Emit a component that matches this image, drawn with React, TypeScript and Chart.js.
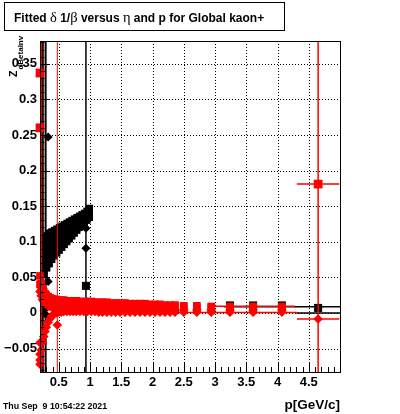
import React, { useEffect, useRef } from "react";
import { Chart, registerables } from "chart.js";

Chart.register(...registerables);

// ---------- axis ranges & ticks ----------
const xRange = [0.2, 5.0];
const yRange = [-0.083, 0.382];
const xTickValues = [0.5, 1, 1.5, 2, 2.5, 3, 3.5, 4, 4.5];
const yTickValues = [-0.05, 0, 0.05, 0.1, 0.15, 0.2, 0.25, 0.3, 0.35];

// ---------- texts ----------
const titleParts: [string, string][] = [
  ["Fitted ", "b"], ["\u03b4", "g"], [" 1/", "b"], ["\u03b2", "g"],
  [" versus ", "b"], ["\u03b7", "g"], [" and p for Global kaon+", "b"],
];
const dateText = "Thu Sep  9 10:54:22 2021";
const xTitle = "p[GeV/c]";
const yTitleMain = "Z";
const yTitleSub = "dBetaInv";

// ---------- black wedge (dense black squares, several eta bins) ----------
const wedgeP = [0.27, 0.31, 0.35, 0.39, 0.43, 0.47, 0.51, 0.55, 0.59, 0.63, 0.67, 0.71, 0.75, 0.79, 0.83, 0.87, 0.91, 0.95, 0.99];
const blackRow1 = [0.106, 0.108, 0.111, 0.114, 0.116, 0.118, 0.120, 0.122, 0.124, 0.126, 0.128, 0.130, 0.132, 0.134, 0.136, 0.138, 0.140, 0.143, 0.147];
const blackRow2 = [0.098, 0.101, 0.105, 0.108, 0.110, 0.113, 0.115, 0.118, 0.120, 0.122, 0.124, 0.126, 0.128, 0.130, 0.132, 0.135, 0.137, 0.140, 0.144];
const blackRow3 = [0.089, 0.093, 0.097, 0.101, 0.104, 0.107, 0.110, 0.112, 0.115, 0.117, 0.119, 0.122, 0.124, 0.127, 0.129, 0.132, 0.134, 0.137, 0.141];
const blackRow4 = [0.079, 0.084, 0.089, 0.093, 0.097, 0.100, 0.103, 0.106, 0.109, 0.112, 0.114, 0.117, 0.120, 0.123, 0.126, 0.128, 0.131, 0.134, 0.138];
const blackRow5 = [0.068, 0.074, 0.079, 0.084, 0.089, 0.092, 0.096, 0.099, 0.103, 0.106, 0.109, 0.112, 0.116, 0.119, 0.122, 0.125, 0.128, 0.132, 0.136];
const blackRow6 = [0.055, 0.063, 0.069, 0.075, 0.080, 0.084, 0.088, 0.092, 0.096, 0.100, 0.104, 0.108, 0.112, 0.116, 0.120, 0.123, 0.126, 0.130, 0.134];

// ---------- isolated black markers ----------
const blackSqP = [0.935, 3.24, 3.61, 4.07, 4.65];
const blackSqY = [0.038, 0.0105, 0.0105, 0.0105, 0.007];
const blackDiaP = [0.33, 0.33, 0.33, 0.935, 0.935, 0.27, 0.30];
const blackDiaY = [0.247, 0.112, 0.044, 0.119, 0.091, 0.004, -0.003];

// ---------- red band (dense red markers, several eta bins) ----------
const bandP = [0.20, 0.22, 0.24, 0.26, 0.28, 0.30, 0.33, 0.36, 0.39, 0.42, 0.46, 0.50, 0.54, 0.58, 0.63, 0.68, 0.73, 0.78, 0.84, 0.90, 0.96, 1.02, 1.08, 1.14, 1.20, 1.27, 1.34, 1.41, 1.48, 1.56, 1.64, 1.72, 1.80, 1.88, 1.96, 2.04, 2.12, 2.20, 2.28, 2.36, 2.50, 2.71, 2.94, 3.24, 3.61, 4.07];
const redSqA = [0.052, 0.041, 0.034, 0.030, 0.027, 0.025, 0.023, 0.021, 0.020, 0.019, 0.019, 0.018, 0.018, 0.018, 0.017, 0.017, 0.017, 0.017, 0.016, 0.016, 0.016, 0.016, 0.015, 0.015, 0.015, 0.015, 0.014, 0.014, 0.014, 0.014, 0.013, 0.013, 0.013, 0.013, 0.012, 0.012, 0.012, 0.011, 0.011, 0.011, 0.010, 0.010, 0.009, 0.009, 0.009, 0.009];
const redSqB = [0.040, 0.032, 0.027, 0.023, 0.020, 0.018, 0.016, 0.015, 0.014, 0.013, 0.013, 0.012, 0.012, 0.012, 0.012, 0.011, 0.011, 0.011, 0.011, 0.011, 0.010, 0.010, 0.010, 0.010, 0.010, 0.010, 0.010, 0.009, 0.009, 0.009, 0.009, 0.009, 0.009, 0.009, 0.009, 0.008, 0.008, 0.008, 0.008, 0.008, 0.008, 0.007, 0.007, 0.007, 0.007, 0.007];
const redDiaC = [0.030, 0.024, 0.019, 0.016, 0.014, 0.012, 0.010, 0.009, 0.008, 0.007, 0.007, 0.006, 0.006, 0.006, 0.006, 0.006, 0.005, 0.005, 0.005, 0.005, 0.005, 0.005, 0.005, 0.005, 0.005, 0.005, 0.004, 0.004, 0.004, 0.004, 0.004, 0.004, 0.004, 0.004, 0.004, 0.004, 0.004, 0.004, 0.004, 0.004, 0.004, 0.004, 0.004, 0.004, 0.004, 0.004];
const redDiaD = [-0.072, -0.052, -0.041, -0.033, -0.026, -0.020, -0.013, -0.008, -0.004, -0.002, 0.000, 0.001, 0.001, 0.002, 0.002, 0.002, 0.002, 0.002, 0.002, 0.002, 0.002, 0.002, 0.002, 0.001, 0.001, 0.001, 0.001, 0.001, 0.001, 0.001, 0.001, 0.001, 0.001, 0.001, 0.001, 0.001, 0.001, 0.001, 0.001, 0.001, 0.001, 0.001, 0.001, 0.001, 0.001, 0.001];

// ---------- isolated red markers ----------
const redSqP = [0.2, 0.2, 4.65];
const redSqY = [0.337, 0.26, 0.181];
const redDiaP = [0.2, 0.2, 0.2, 0.477, 4.65];
const redDiaY = [-0.042, -0.058, -0.066, -0.017, -0.0085];

// ---------- error bars (centre, half-widths) ----------
const redErrP = [0.218, 0.477, 4.65, 4.65, 3.61, 3.24];
const redErrY = [0.26, -0.017, 0.181, -0.0085, 0.0095, 0.0005];
const redErrDx = [0, 0, 0.34, 0.34, 0.67, 1.07];
const redErrDy = [0.5, 0.5, 0.5, 0, 0, 0];
const blackErrP = [0.245, 0.29, 0.935, 4.07, 4.65];
const blackErrY = [0.1, 0.1, 0.038, 0.0085, 0.0];
const blackErrDx = [0, 0, 0, 0.93, 0.35];
const blackErrDy = [0.5, 0.5, 0.5, 0, 0];

// ---------- styling ----------
const RED = "#ff0000";
const BLACK = "#000000";
const SANS = '"Liberation Sans", Arial, Helvetica, sans-serif';
const SERIF = '"Liberation Serif", "DejaVu Serif", serif';
const redErrWidth = [2.2, 1, 1.5, 1.5, 1.5, 1.5];
const blackErrWidth = [2, 2, 1.5, 1.5, 1.5];

const zip = (P: number[], Y: number[]) => P.map((p, i) => ({ x: p, y: Y[i] }));

function markerSet(data: any[], style: string, radius: number, color: string, order: number) {
  return {
    data,
    showLine: false,
    pointStyle: style,
    pointRadius: radius,
    pointHoverRadius: radius,
    pointBackgroundColor: color,
    pointBorderColor: color,
    pointBorderWidth: 0,
    backgroundColor: color,
    borderColor: color,
    clip: 8,
    order,
  };
}

function errSets(P: number[], Y: number[], DX: number[], DY: number[], widths: number[], color: string, order: number) {
  const out: any[] = [];
  P.forEach((p, i) => {
    const base = {
      showLine: true,
      pointRadius: 0,
      pointHoverRadius: 0,
      borderColor: color,
      borderWidth: widths[i],
      fill: false,
      clip: 0,
      order,
    };
    if (DX[i] > 0) out.push({ ...base, data: [{ x: p - DX[i], y: Y[i] }, { x: p + DX[i], y: Y[i] }] });
    if (DY[i] > 0) out.push({ ...base, data: [{ x: p, y: Y[i] - DY[i] }, { x: p, y: Y[i] + DY[i] }] });
  });
  return out;
}

const fmt = (v: number) => {
  const s = String(Math.round(v * 100) / 100);
  return s.startsWith("-") ? "\u2212" + s.slice(1) : s;
};

const rootPlugin = {
  id: "rootStyle",
  beforeDraw(chart: any) {
    const ctx = chart.ctx;
    ctx.save();
    ctx.fillStyle = "#ffffff";
    ctx.fillRect(0, 0, chart.width, chart.height);
    ctx.restore();
  },
  beforeDatasetsDraw(chart: any) {
    const { ctx, chartArea: a, scales } = chart;
    ctx.save();
    ctx.strokeStyle = BLACK;
    ctx.lineWidth = 1;
    ctx.setLineDash([1, 2]);
    xTickValues.forEach((v) => {
      const px = Math.round(scales.x.getPixelForValue(v)) + 0.5;
      ctx.beginPath();
      ctx.moveTo(px, a.top);
      ctx.lineTo(px, a.bottom);
      ctx.stroke();
    });
    yTickValues.forEach((v) => {
      const py = Math.round(scales.y.getPixelForValue(v)) + 0.5;
      ctx.beginPath();
      ctx.moveTo(a.left, py);
      ctx.lineTo(a.right, py);
      ctx.stroke();
    });
    ctx.restore();
  },
  afterDatasetsDraw(chart: any) {
    const { ctx, chartArea: a, scales } = chart;
    ctx.save();
    ctx.strokeStyle = BLACK;
    ctx.lineWidth = 1;
    ctx.setLineDash([]);
    // frame
    ctx.strokeRect(Math.round(a.left) + 0.5, Math.round(a.top) + 0.5, Math.round(a.right - a.left), Math.round(a.bottom - a.top));
    // x ticks (inside, bottom)
    ctx.beginPath();
    for (let i = 2; i <= 50; i++) {
      const v = i / 10;
      const px = Math.round(scales.x.getPixelForValue(v)) + 0.5;
      const len = i % 5 === 0 ? 10 : 5;
      ctx.moveTo(px, a.bottom);
      ctx.lineTo(px, a.bottom - len);
    }
    // y ticks (inside, left)
    for (let i = -8; i <= 38; i++) {
      const v = i / 100;
      const py = Math.round(scales.y.getPixelForValue(v)) + 0.5;
      const len = i % 5 === 0 ? 9 : 4.5;
      ctx.moveTo(a.left, py);
      ctx.lineTo(a.left + len, py);
    }
    ctx.stroke();
    ctx.restore();
  },
  afterDraw(chart: any) {
    const ctx = chart.ctx;
    ctx.save();
    // title box
    ctx.fillStyle = "#ffffff";
    ctx.fillRect(4, 2, 280, 28);
    ctx.strokeStyle = BLACK;
    ctx.lineWidth = 1;
    ctx.strokeRect(4.5, 2.5, 280, 28);
    ctx.fillStyle = BLACK;
    ctx.textBaseline = "alphabetic";
    ctx.textAlign = "left";
    let x = 14;
    titleParts.forEach(([t, kind]) => {
      ctx.font = kind === "g" ? `14.5px ${SERIF}` : `bold 12px ${SANS}`;
      ctx.fillText(t, x, 22);
      x += ctx.measureText(t).width;
    });
    // date
    ctx.font = `bold 8.8px ${SANS}`;
    ctx.fillText(dateText, 3, 409);
    // x title
    ctx.font = `bold 13.5px ${SANS}`;
    ctx.textAlign = "right";
    ctx.fillText(xTitle, 340, 409);
    // y title (rotated)
    ctx.translate(17, 77);
    ctx.rotate(-Math.PI / 2);
    ctx.textAlign = "left";
    ctx.font = `bold 10.5px ${SANS}`;
    ctx.fillText(yTitleMain, 0, 0);
    const w = ctx.measureText(yTitleMain).width;
    ctx.font = `bold 8px ${SANS}`;
    ctx.fillText(yTitleSub, w + 1, 6);
    ctx.restore();
  },
};

export default function App() {
  const ref = useRef<HTMLCanvasElement>(null);
  useEffect(() => {
    const wedge: any[] = [];
    [blackRow1, blackRow2, blackRow3, blackRow4, blackRow5, blackRow6].forEach((row) => wedge.push(...zip(wedgeP, row)));

    const datasets: any[] = [
      ...errSets(blackErrP, blackErrY, blackErrDx, blackErrDy, blackErrWidth, BLACK, 4),
      markerSet(wedge, "rect", 5, BLACK, 3),
      markerSet(zip(blackSqP, blackSqY), "rect", 5.7, BLACK, 3),
      markerSet(zip(blackDiaP, blackDiaY), "rectRot", 4.5, BLACK, 3),
      ...errSets(redErrP, redErrY, redErrDx, redErrDy, redErrWidth, RED, 2),
      markerSet(zip(bandP, redSqA), "rect", 5.4, RED, 1),
      markerSet(zip(bandP, redSqB), "rect", 5.4, RED, 1),
      markerSet(zip(bandP, redDiaC), "rectRot", 4.8, RED, 1),
      markerSet(zip(bandP, redDiaD), "rectRot", 4.8, RED, 1),
      markerSet(zip(redSqP, redSqY), "rect", 6.2, RED, 1),
      markerSet(zip(redDiaP, redDiaY), "rectRot", 4.8, RED, 1),
    ];

    const tickFont = { family: SANS, size: 13, weight: "bold" as const };
    const chart = new Chart(ref.current as HTMLCanvasElement, {
      type: "scatter",
      data: { datasets },
      options: {
        animation: false,
        responsive: false,
        devicePixelRatio: 1,
        events: [],
        layout: { padding: { left: 0, right: 60, top: 41, bottom: 0 } },
        plugins: { legend: { display: false }, tooltip: { enabled: false }, title: { display: false } },
        scales: {
          x: {
            type: "linear",
            position: "bottom",
            min: xRange[0],
            max: xRange[1],
            grid: { display: false, drawTicks: false },
            border: { display: false },
            afterBuildTicks: (s: any) => { s.ticks = xTickValues.map((v) => ({ value: v })); },
            afterFit: (s: any) => { s.height = 42; },
            ticks: { padding: 3, color: BLACK, font: tickFont, autoSkip: false, maxRotation: 0, callback: (v: any) => fmt(Number(v)) },
          },
          y: {
            type: "linear",
            position: "left",
            min: yRange[0],
            max: yRange[1],
            grid: { display: false, drawTicks: false },
            border: { display: false },
            afterBuildTicks: (s: any) => { s.ticks = yTickValues.map((v) => ({ value: v })); },
            afterFit: (s: any) => { s.width = 40; },
            ticks: { padding: 3, color: BLACK, font: tickFont, autoSkip: false, callback: (v: any) => fmt(Number(v)) },
          },
        },
      },
      plugins: [rootPlugin],
    } as any);
    return () => chart.destroy();
  }, []);
  return (
    <div style={{ position: "absolute", left: 0, top: 0, width: 400, height: 414 }}>
      <canvas ref={ref} width={400} height={414} style={{ display: "block", width: 400, height: 414 }} />
    </div>
  );
}
